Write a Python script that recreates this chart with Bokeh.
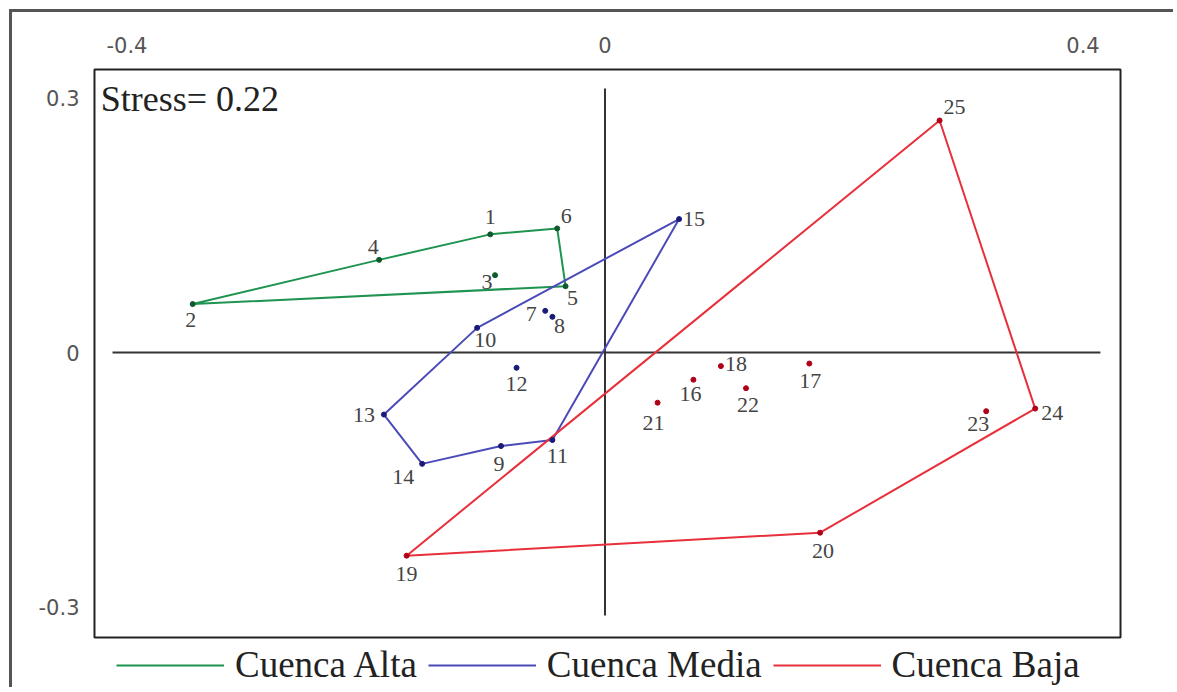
from bokeh.plotting import figure
from bokeh.models import (ColumnDataSource, Range1d, FixedTicker, Label, Legend, LegendItem,
                          BoxAnnotation)
from bokeh.core.properties import value
from bokeh.embed import file_html
from bokeh.resources import INLINE

# ---- data ----
sites = list(range(1, 26))
nmds1 = [-0.096, -0.345, -0.092, -0.189, -0.033, -0.040, -0.050, -0.044, -0.087, -0.107,
         -0.044, -0.074, -0.185, -0.153, 0.062, 0.074, 0.171, 0.097, -0.166, 0.180,
         0.044, 0.118, 0.319, 0.360, 0.280]
nmds2 = [0.139, 0.057, 0.091, 0.109, 0.078, 0.146, 0.049, 0.042, -0.110, 0.029,
         -0.103, -0.018, -0.073, -0.131, 0.157, -0.032, -0.013, -0.016, -0.239, -0.212,
         -0.059, -0.042, -0.069, -0.066, 0.273]
groups = ["Cuenca Alta"] * 6 + ["Cuenca Media"] * 9 + ["Cuenca Baja"] * 10
group_names = ["Cuenca Alta", "Cuenca Media", "Cuenca Baja"]
hulls = {
    "Cuenca Alta": [2, 4, 1, 6, 5, 2],
    "Cuenca Media": [10, 15, 11, 9, 14, 13, 10],
    "Cuenca Baja": [19, 25, 24, 20, 19],
}
x_ticks = [-0.4, 0, 0.4]
y_ticks = [-0.3, 0, 0.3]
stress = 0.22

# ---- styles ----
line_colors = {"Cuenca Alta": "#1f9450", "Cuenca Media": "#4a4ab8", "Cuenca Baja": "#e8303c"}
dot_colors = {"Cuenca Alta": "#0e5a2c", "Cuenca Media": "#1a1a7a", "Cuenca Baja": "#b00018"}
# label offsets in screen pixels (dx right, dy up)
label_dx = [0, -2, -8, -6, 7, 9, -14, 7, -2, 8, 5, 0, -20, -19, 15, -3, 1, 15, 0, 3, -4, 2, -8, 17, 15]
label_dy = [17, -16, -7, 13, -12, 12, -3, -9, -18, -12, -16, -16, 0, -13, 0, -14, -17, 2, -18, -18, -20, -17, -13, -4, 13]

# plotting box (drawn outline) and a slightly larger frame holding the legend below it
box_l, box_r, box_b, box_t = -0.4272, 0.4314, -0.3353, 0.3329

p = figure(width=1164, height=678, output_backend="svg", toolbar_location=None,
           x_range=Range1d(-0.4297, 0.4339), y_range=Range1d(-0.3953, 0.3365),
           x_axis_location="above", min_border_left=79, min_border_top=54,
           min_border_right=53, min_border_bottom=2)
p.styles = {"border-top": "3px solid #555555", "border-left": "3px solid #555555",
            "margin-top": "9px", "margin-left": "9px"}
p.grid.visible = False
p.outline_line_color = None
p.background_fill_color = "white"
p.border_fill_color = "white"

for ax, ticks in ((p.xaxis[0], x_ticks), (p.yaxis[0], y_ticks)):
    ax.ticker = FixedTicker(ticks=ticks)
    ax.major_label_overrides = {t: ("0" if t == 0 else f"{t:g}") for t in ticks}
    ax.axis_line_color = None
    ax.major_tick_line_color = None
    ax.minor_tick_line_color = None
    ax.major_tick_out = 0
    ax.major_label_text_font = "DejaVu Sans"
    ax.major_label_text_font_size = "21px"
    ax.major_label_text_color = "#555555"
p.xaxis.major_label_standoff = 14
p.yaxis.major_label_standoff = 12

p.add_layout(BoxAnnotation(left=box_l, right=box_r, bottom=box_b, top=box_t,
                           fill_color=None, fill_alpha=0, line_color="#222222",
                           line_alpha=1.0, line_width=2))

# cross lines at zero
p.segment(x0=[-0.4121], y0=[0], x1=[0.4146], y1=[0], line_color="#333333", line_width=2)
p.segment(x0=[0], y0=[0.3106], x1=[0], y1=[-0.3094], line_color="#333333", line_width=2)

idx = {s: i for i, s in enumerate(sites)}
items = []
for g in group_names:
    hx = [nmds1[idx[s]] for s in hulls[g]]
    hy = [nmds2[idx[s]] for s in hulls[g]]
    r = p.line(hx, hy, line_color=line_colors[g], line_width=2)
    items.append(LegendItem(label=g, renderers=[r]))

src = ColumnDataSource(dict(
    x=nmds1, y=nmds2, lab=[str(s) for s in sites],
    col=[dot_colors[g] for g in groups],
    dx=label_dx, dy=[-d for d in label_dy],
))
p.scatter("x", "y", source=src, size=5, fill_color="col", line_color="col")
p.text("x", "y", text="lab", source=src, x_offset="dx", y_offset="dy",
       text_align="center", text_baseline="middle", text_font=value("Liberation Serif"),
       text_font_size="22px", text_color="#444444")

p.add_layout(Label(x=-0.422, y=0.2988, text=f"Stress= {stress}", text_baseline="middle",
                   text_font="Liberation Serif", text_font_size="36px", text_color="#222222"))

legend = Legend(items=items, orientation="horizontal", location=(25, 2),
                glyph_width=108, glyph_height=20, label_standoff=11, spacing=11,
                label_text_font="Liberation Serif", label_text_font_size="37px",
                label_text_color="#222222", border_line_color=None,
                background_fill_alpha=0, padding=0, margin=0)
p.add_layout(legend, "center")

open("out.html", "w").write(file_html(p, INLINE))
